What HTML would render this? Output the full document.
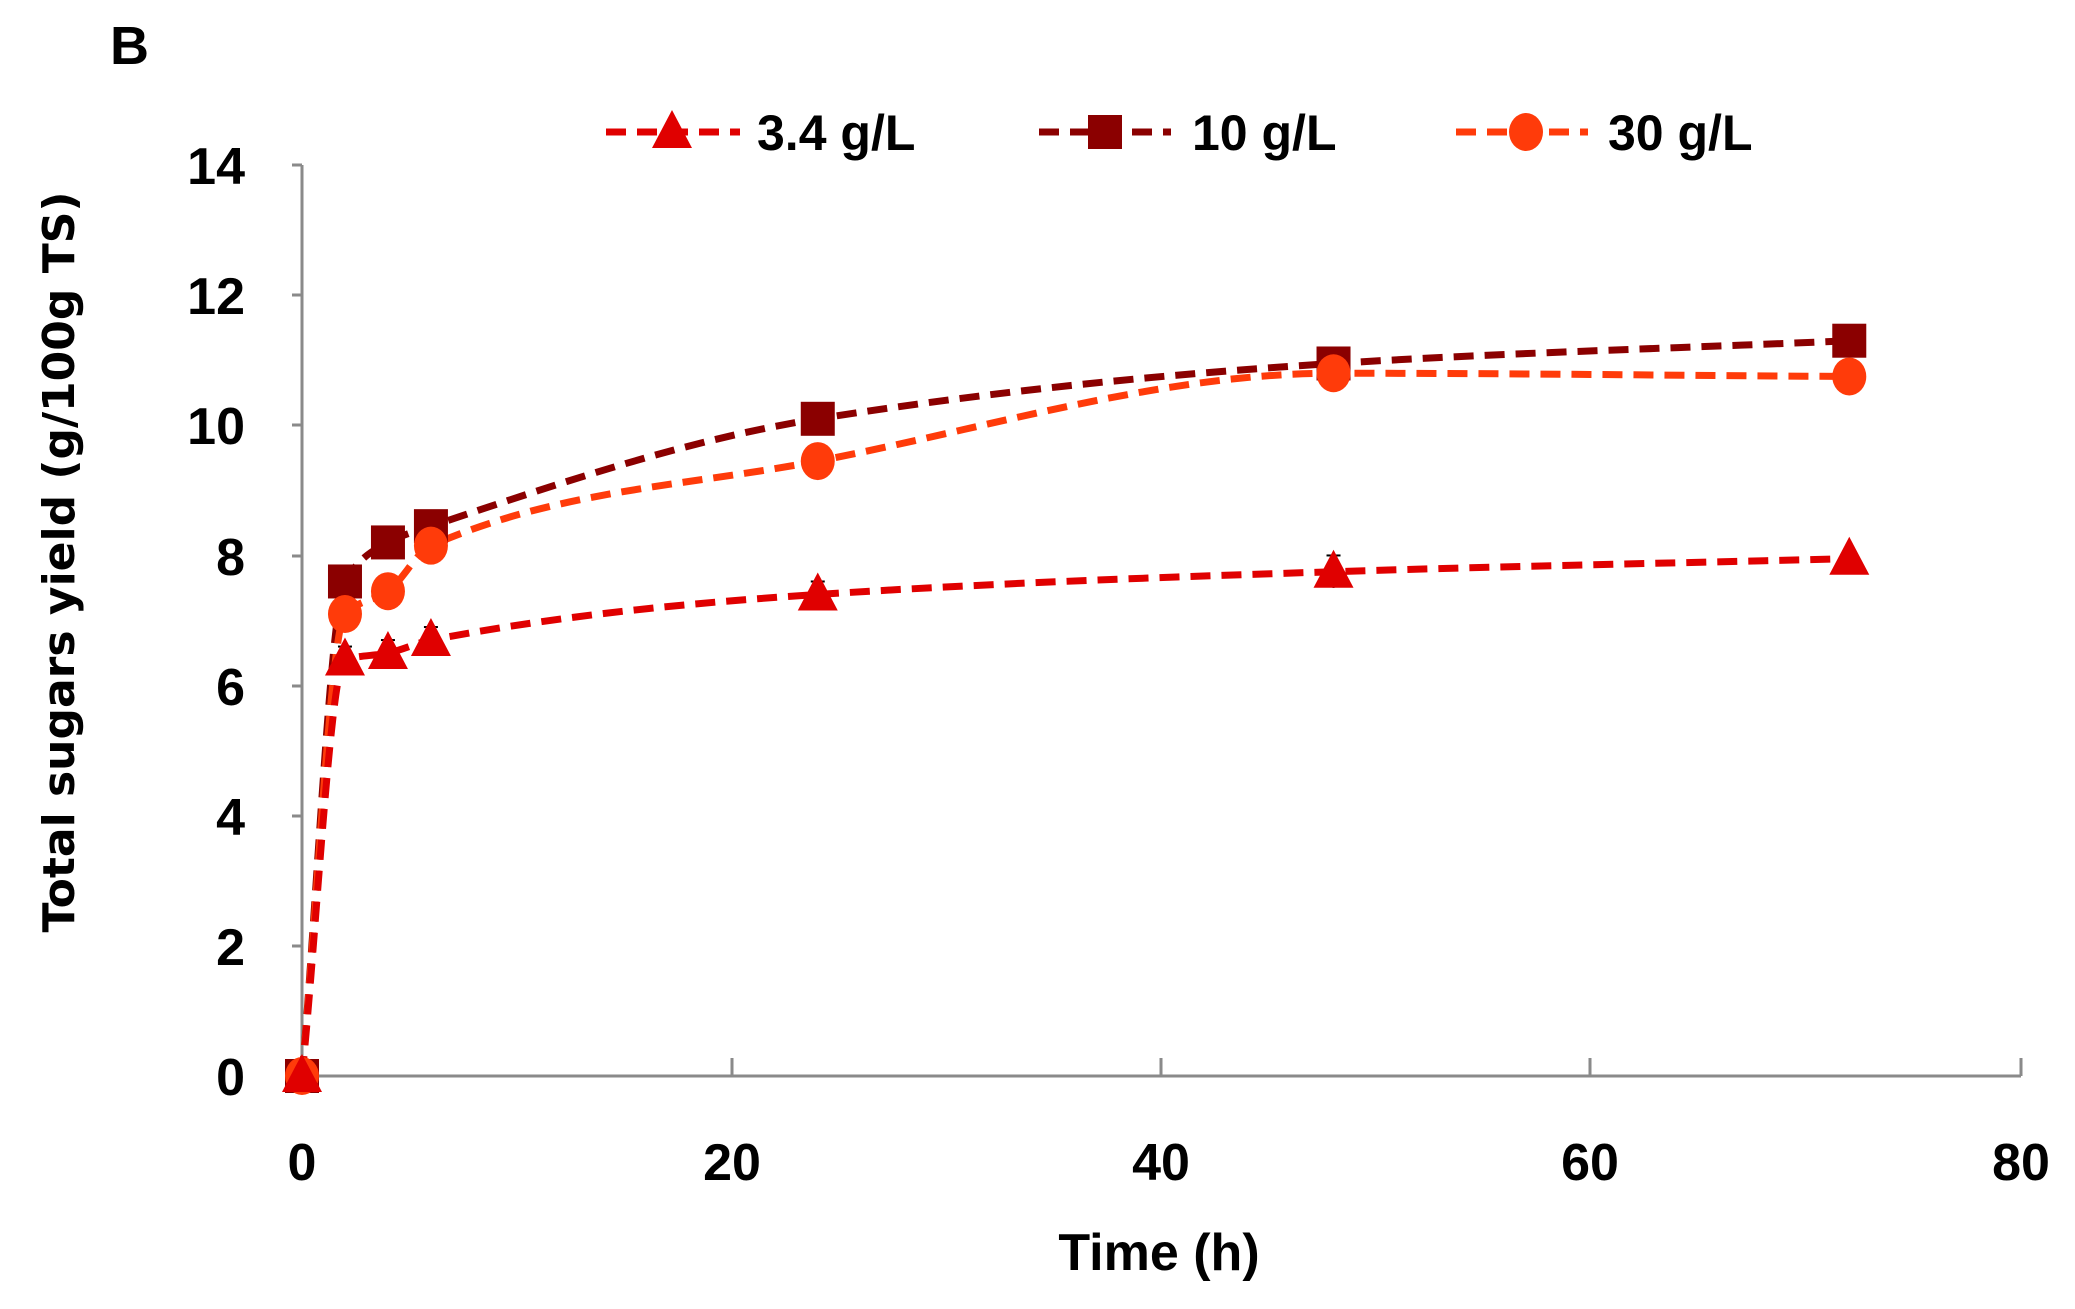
<!DOCTYPE html>
<html><head><meta charset="utf-8"><style>
html,body{margin:0;padding:0;background:#fff;}
svg{display:block;}
text{font-family:"Liberation Sans",sans-serif;font-weight:bold;fill:#000;}
</style></head><body>
<svg id="s" width="2075" height="1309" viewBox="0 0 2075 1309" xmlns="http://www.w3.org/2000/svg">
<text x="110" y="64" font-size="54">B</text>
<g stroke="#8a8a8a" stroke-width="3" fill="none">
<line x1="302" y1="165" x2="302" y2="1076"/>
<line x1="302" y1="1076" x2="2021" y2="1076"/>
<line x1="292" y1="165" x2="302" y2="165"/>
<line x1="292" y1="295" x2="302" y2="295"/>
<line x1="292" y1="425" x2="302" y2="425"/>
<line x1="292" y1="556" x2="302" y2="556"/>
<line x1="292" y1="686" x2="302" y2="686"/>
<line x1="292" y1="816" x2="302" y2="816"/>
<line x1="292" y1="946" x2="302" y2="946"/>
<line x1="732" y1="1058" x2="732" y2="1076"/>
<line x1="1161" y1="1058" x2="1161" y2="1076"/>
<line x1="1590" y1="1058" x2="1590" y2="1076"/>
<line x1="2021" y1="1058" x2="2021" y2="1076"/>
</g>
<g font-size="52" text-anchor="end">
<text x="245" y="184">14</text><text x="245" y="314">12</text><text x="245" y="444">10</text>
<text x="245" y="575">8</text><text x="245" y="705">6</text><text x="245" y="835">4</text>
<text x="245" y="965">2</text><text x="245" y="1095">0</text>
</g>
<g font-size="52" text-anchor="middle">
<text x="302" y="1180">0</text><text x="732" y="1180">20</text><text x="1161" y="1180">40</text>
<text x="1590" y="1180">60</text><text x="2021" y="1180">80</text>
<text x="1159" y="1270">Time (h)</text>
</g>
<text transform="translate(74,562) rotate(-90)" text-anchor="middle" font-size="44" style="font-family:'DejaVu Sans',sans-serif">Total sugars yield (g/100g TS)</text>
<g id="series"></g>
<g font-size="50">
<text x="757" y="150">3.4 g/L</text>
<text x="1192" y="150">10 g/L</text>
<text x="1608" y="150">30 g/L</text>
</g>
<g id="leg"></g>
</svg>
<script>
var NS="http://www.w3.org/2000/svg";
function X(t){return 302+t*21.49;}
function Y(v){return 1076-v*65.07;}
function el(tag,a,p){var e=document.createElementNS(NS,tag);for(var k in a)e.setAttribute(k,a[k]);(p||document.getElementById('series')).appendChild(e);return e;}
var T=[0,2,4,6,24,48,72];
var S=[
 {c:"#8b0000",m:"sq",v:[0,7.6,8.2,8.45,10.1,10.95,11.3],e:[0,0,0.15,0.1,0.2,0.1,0.15]},
 {c:"#ff3b0a",m:"ci",v:[0,7.1,7.45,8.15,9.45,10.8,10.75],e:[0,0,0,0.1,0.2,0.1,0.15]},
 {c:"#e00000",m:"tr",v:[0,6.4,6.5,6.7,7.4,7.75,7.95],e:[0,0.2,0.2,0.2,0.2,0.25,0]}
];
function path(pts){
 var n=pts.length,d=[],m=[];
 for(var i=0;i<n-1;i++)d.push((pts[i+1][1]-pts[i][1])/(pts[i+1][0]-pts[i][0]));
 m[0]=d[0];m[n-1]=d[n-2];
 for(var i=1;i<n-1;i++){ if(d[i-1]*d[i]<=0)m[i]=0; else {var w1=2*(pts[i+1][0]-pts[i][0])+(pts[i][0]-pts[i-1][0]),w2=(pts[i+1][0]-pts[i][0])+2*(pts[i][0]-pts[i-1][0]);m[i]=(w1+w2)/(w1/d[i-1]+w2/d[i]);}}
 var s="M"+pts[0][0]+","+pts[0][1];
 for(var i=0;i<n-1;i++){var h=(pts[i+1][0]-pts[i][0])/3;
  s+=" C"+(pts[i][0]+h)+","+(pts[i][1]+m[i]*h)+" "+(pts[i+1][0]-h)+","+(pts[i+1][1]-m[i+1]*h)+" "+pts[i+1][0]+","+pts[i+1][1];}
 return s;}
function marker(m,x,y,c,p){
 if(m=="sq")el("rect",{x:x-17,y:y-17,width:34,height:34,fill:c},p);
 else if(m=="ci")el("ellipse",{cx:x,cy:y,rx:17,ry:19,fill:c},p);
 else el("polygon",{points:(x)+","+(y-22)+" "+(x-20)+","+(y+16)+" "+(x+20)+","+(y+16),fill:c},p);}
S.forEach(function(s){
 var pts=T.map(function(t,i){return [X(t),Y(s.v[i])];});
 el("path",{d:path(pts),fill:"none",stroke:s.c,"stroke-width":7,"stroke-dasharray":"20,11"});
});
S.forEach(function(s){
 T.forEach(function(t,i){var x=X(t),y=Y(s.v[i]);
  if(s.e[i]>0){var h=s.e[i]*65;el("line",{x1:x,y1:y-h,x2:x,y2:y+h,stroke:"#000","stroke-width":2});el("line",{x1:x-7,y1:y-h,x2:x+7,y2:y-h,stroke:"#000","stroke-width":2});}
  marker(s.m,x,y,s.c);});
});
var L=document.getElementById('leg');
[[606,740,672,"#e00000","tr"],[1039,1171,1105,"#8b0000","sq"],[1456,1588,1526,"#ff3b0a","ci"]].forEach(function(a){
 el("line",{x1:a[0],y1:132,x2:a[1],y2:132,stroke:a[3],"stroke-width":7,"stroke-dasharray":"20,11"},L);
 marker(a[4],a[2],132,a[3],L);});
</script>
</body></html>
